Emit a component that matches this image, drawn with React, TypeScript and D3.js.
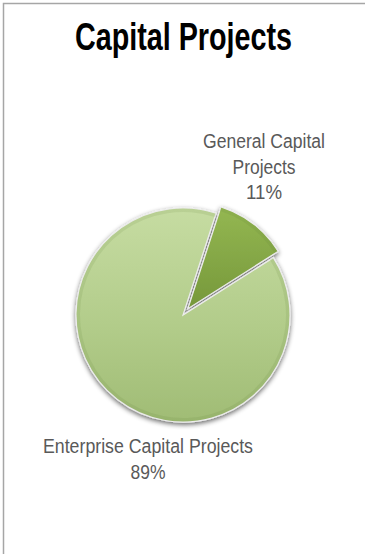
import React from "react";
import * as d3 from "d3";

const categories = ["General Capital Projects", "Enterprise Capital Projects"];
const values = [11, 89];
const labelLines = [
  ["General Capital", "Projects", "11%"],
  ["Enterprise Capital Projects", "89%"],
];
const title = "Capital Projects";

const W = 365;
const H = 554;
const cx = 183;
const cy = 315;
const R = 107;
const startDeg = 18;
const explode = [8, 0];

const fontNarrow = "'Liberation Sans Narrow', 'Arial Narrow', 'Liberation Sans', Arial, sans-serif";

export default function App() {
  const pie = d3
    .pie<number>()
    .sort(null)
    .startAngle((startDeg * Math.PI) / 180)
    .endAngle((startDeg * Math.PI) / 180 + 2 * Math.PI);
  const arcs = pie(values);
  const arc = d3.arc<d3.PieArcDatum<number>>().innerRadius(0).outerRadius(R);
  const rim = d3.arc<d3.PieArcDatum<number>>().innerRadius(R - 4).outerRadius(R - 0.5);

  const fills = ["url(#gSmall)", "url(#gBig)"];

  const labelPos = [
    { x: 264, y: 148, lens: [122, 63, 36] },
    { x: 148, y: 453, lens: [210, 35] },
  ];

  return (
    <svg
      width={W}
      height={H}
      style={{ position: "absolute", left: 0, top: 0, background: "#fff" }}
    >
      <defs>
        <linearGradient id="gBig" x1="0" y1="0" x2="0" y2="1">
          <stop offset="0%" stopColor="#C6DCA2" />
          <stop offset="55%" stopColor="#B2CC8A" />
          <stop offset="100%" stopColor="#A0BC75" />
        </linearGradient>
        <linearGradient id="gSmall" x1="0" y1="0" x2="0" y2="1">
          <stop offset="0%" stopColor="#94B752" />
          <stop offset="100%" stopColor="#76983A" />
        </linearGradient>
        <filter id="shadow" x="-20%" y="-20%" width="140%" height="140%">
          <feGaussianBlur in="SourceAlpha" stdDeviation="2.4" />
          <feOffset dx="0" dy="1.5" result="b" />
          <feComponentTransfer>
            <feFuncA type="linear" slope="0.6" />
          </feComponentTransfer>
          <feMerge>
            <feMergeNode />
            <feMergeNode in="SourceGraphic" />
          </feMerge>
        </filter>
      </defs>

      <rect x={3.5} y={3.5} width={W + 20} height={H + 20} fill="none" stroke="#A6A6A6" strokeWidth={1.5} />

      <text
        x={183.5}
        y={50}
        textAnchor="middle"
        fontFamily={fontNarrow}
        fontWeight="bold"
        fontSize={38}
        fill="#000"
        textLength={217}
        lengthAdjust="spacingAndGlyphs"
      >
        {title}
      </text>

      <g filter="url(#shadow)">
        {arcs.map((a, i) => {
          const mid = (a.startAngle + a.endAngle) / 2;
          const dx = Math.sin(mid) * explode[i];
          const dy = -Math.cos(mid) * explode[i];
          return (
            <g key={categories[i]} transform={`translate(${cx + dx},${cy + dy})`}>
              <path d={arc(a) || ""} fill={fills[i]} stroke="#EDEDED" strokeWidth={1.2} />
              <path d={rim(a) || ""} fill="#5E7A2E" opacity={0.12} />
            </g>
          );
        })}
      </g>

      {labelPos.map((p, i) => (
        <text
          key={categories[i]}
          textAnchor="middle"
          fontFamily={fontNarrow}
          fontSize={20}
          fill="#595959"
        >
          {labelLines[i].map((line, j) => (
            <tspan
              key={j}
              x={p.x}
              y={p.y + j * 25.5}
              textLength={p.lens[j]}
              lengthAdjust="spacingAndGlyphs"
            >
              {line}
            </tspan>
          ))}
        </text>
      ))}
    </svg>
  );
}
